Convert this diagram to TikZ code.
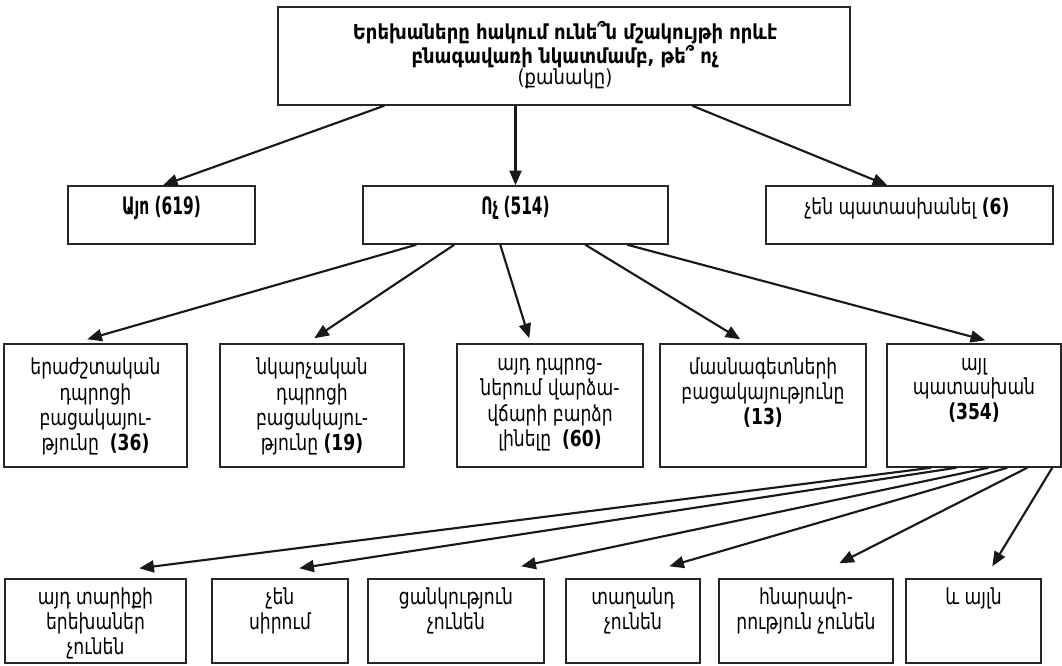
\documentclass[tikz,border=0pt]{standalone}
\usepackage{fontspec}
\setmainfont{DejaVu Sans}
\newfontfamily\bodyfont{DejaVu Sans}[FakeStretch=0.78]
\newfontfamily\titlefont{DejaVu Sans}[FakeStretch=0.87]
\newfontfamily\narrowfont{DejaVu Sans}[FakeStretch=0.64]
\usetikzlibrary{arrows.meta,calc}
\begin{document}
\begin{tikzpicture}[x=0.75pt,y=-0.75pt,
  box/.style={draw=black!85, line width=1.1pt, rectangle, inner sep=0pt},
  arr/.style={line width=1.6pt, black!90, -{Triangle[length=11pt,width=9pt]}},
  txt/.style={inner sep=0pt, align=center, font=\bodyfont\fontsize{16.5}{19}\selectfont},
  txtb/.style={inner sep=0pt, align=center, font=\bodyfont\fontsize{16.5}{18.5}\selectfont},
  ttl/.style={inner sep=0pt, align=center, font=\titlefont\bfseries\fontsize{15.5}{15.5}\selectfont},
  bt/.style={inner sep=0pt, font=\narrowfont\bfseries\fontsize{18}{20}\selectfont},
  r2/.style={box, minimum height=43.5pt},
  r3/.style={box, minimum height=92.25pt},
  r4/.style={box, minimum height=63pt}]
\useasboundingbox (0,0) rectangle (1062,665);
% top
\node[box, minimum width=429pt, minimum height=73.5pt] (top) at (564,56) {};
\node[ttl] (toptxt) at (565,55) {Երեխաները հակում ունե՞ն մշակույթի որևէ\\բնագավառի նկատմամբ, թե՞ ոչ\\{\mdseries (քանակը)}};
% row 2
\node[r2, minimum width=140.25pt] (yes) at (161.5,215) {};
\node[bt] (yestxt) at (161.5,208) {Այո (619)};
\node[r2, minimum width=228.75pt] (no) at (515.5,215) {};
\node[bt] (notxt) at (515.5,208) {Ոչ (514)};
\node[r2, minimum width=215.25pt] (nr) at (909.5,215) {};
\node[txt] (nrtxt) at (907,208) {չեն պատասխանել {\bfseries (6)}};
% row 3
\node[r3, minimum width=137.25pt] (a1) at (95.5,405.5) {};
\node[txt, anchor=north] (a1txt) at (95.5,358) {երաժշտական\\դպրոցի\\բացակայու-\\թյունը \ {\bfseries (36)}};
\node[r3, minimum width=138pt] (a2) at (312,405.5) {};
\node[txt, anchor=north] (a2txt) at (312,358) {նկարչական\\դպրոցի\\բացակայու-\\թյունը {\bfseries (19)}};
\node[r3, minimum width=139.5pt] (a3) at (550,405.5) {};
\node[txt, anchor=north] (a3txt) at (550,358) {այդ դպրոց-\\ներում վարձա-\\վճարի բարձր\\լինելը \ {\bfseries (60)}};
\node[r3, minimum width=154.5pt] (a4) at (763,405.5) {};
\node[txtb, anchor=north] (a4txt) at (763,358) {մասնագետների\\բացակայությունը\\{\bfseries (13)}};
\node[r3, minimum width=130.5pt] (a5) at (974,405.5) {};
\node[txtb, anchor=north] (a5txt) at (974,358) {այլ\\պատասխան\\{\bfseries (354)}};
% row 4
\node[r4, minimum width=135.75pt] (c1) at (95.5,621) {};
\node[txtb, anchor=north] (c1txt) at (95.5,588) {այդ տարիքի\\երեխաներ\\չունեն};
\node[r4, minimum width=102pt] (c2) at (280,621) {};
\node[txtb, anchor=north] (c2txt) at (280,588) {չեն\\սիրում};
\node[r4, minimum width=132pt] (c3) at (456,621) {};
\node[txtb, anchor=north] (c3txt) at (456,588) {ցանկություն\\չունեն};
\node[r4, minimum width=100.5pt] (c4) at (633,621) {};
\node[txtb, anchor=north] (c4txt) at (633,588) {տաղանդ\\չունեն};
\node[r4, minimum width=130.5pt] (c5) at (806,621) {};
\node[txtb, anchor=north] (c5txt) at (806,588) {հնարավո-\\րություն չունեն};
\node[r4, minimum width=101.25pt] (c6) at (973.5,621) {};
\node[txtb, anchor=north] (c6txt) at (973.5,588) {և այլն};
% connectors: top -> row 2
\draw[arr] ($(top.south west)+(107,0)$) -- ($(yes.north)+(1.5,0)$);
\draw[arr] (top.south -| no.north) -- (no.north);
\draw[arr] ($(top.south west)+(415,0)$) -- ($(nr.north west)+(122,0)$);
% no -> row 3
\draw[arr] ($(no.south west)+(54,0)$) -- ($(a1.north west)+(84,-4)$);
\draw[arr] ($(no.south west)+(92,0)$) -- ($(a2.north west)+(95,-5)$);
\draw[arr] ($(no.south west)+(138,0)$) -- ($(a3.north west)+(73,-5)$);
\draw[arr] ($(no.south west)+(223,0)$) -- ($(a4.north west)+(81,-4)$);
\draw[arr] ($(no.south west)+(265,0)$) -- ($(a5.north west)+(99,-3)$);
% a5 -> row 4
\draw[arr] ($(a5.south west)+(45,0)$) -- ($(c1.north west)+(135,-10)$);
\draw[arr] ($(a5.south west)+(70,0)$) -- ($(c2.north west)+(88,-10)$);
\draw[arr] ($(a5.south west)+(102,0)$) -- ($(c3.north west)+(154,-12)$);
\draw[arr] ($(a5.south west)+(121,0)$) -- ($(c4.north west)+(104,-12)$);
\draw[arr] ($(a5.south west)+(141,0)$) -- ($(c5.north west)+(121,-15)$);
\draw[arr] ($(a5.south west)+(166,0)$) -- ($(c6.north west)+(87,-12)$);
\end{tikzpicture}
\end{document}
